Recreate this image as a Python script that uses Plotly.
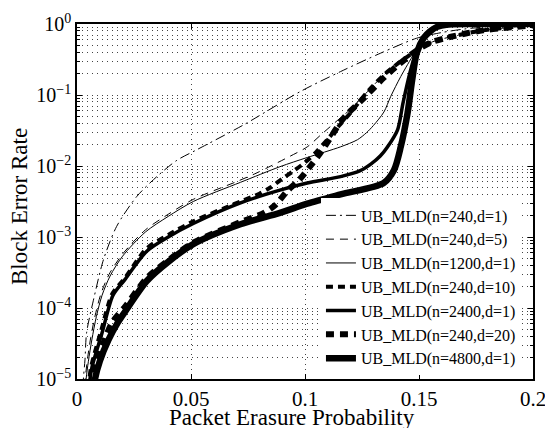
import numpy as np
import plotly.graph_objects as go

# ---- data (x = packet erasure probability, y = log10(block error rate)) ----
p_n240_d1 = [0.0022, 0.0028, 0.0035, 0.0042, 0.0072, 0.0116, 0.0174, 0.0262, 0.035, 0.0438, 0.0526,
             0.0731, 0.098, 0.1156, 0.1332, 0.149, 0.16, 0.17, 0.18, 0.19, 0.2]
e_n240_d1 = [-5.4, -5.0, -4.73, -4.35, -3.89, -3.32, -2.85, -2.43, -2.15, -1.92, -1.77,
             -1.42, -0.95, -0.67, -0.41, -0.2, -0.12, -0.07, -0.04, -0.02, -0.01]

p_n240_d5 = [0.0031, 0.0036, 0.0046, 0.006, 0.008, 0.0105, 0.014, 0.02, 0.03, 0.04, 0.051, 0.07,
             0.078, 0.085, 0.093, 0.101, 0.107, 0.1156, 0.12, 0.1275, 0.1345, 0.14, 0.149, 0.156,
             0.164, 0.171, 0.178, 0.186, 0.2]
e_n240_d5 = [-5.3, -5.0, -4.72, -4.42, -4.1, -3.8, -3.53, -3.24, -2.9, -2.68, -2.47, -2.22,
             -2.11, -2.0, -1.87, -1.73, -1.56, -1.32, -1.2, -0.95, -0.72, -0.58, -0.37, -0.25,
             -0.18, -0.13, -0.09, -0.06, -0.02]

p_n1200_d1 = [0.0034, 0.004, 0.005, 0.0065, 0.0085, 0.011, 0.0145, 0.02, 0.03, 0.04, 0.051, 0.0717,
              0.089, 0.101, 0.1156, 0.123, 0.127, 0.130, 0.1346, 0.1376, 0.142, 0.148, 0.152,
              0.156, 0.16, 0.165, 0.2]
e_n1200_d1 = [-5.3, -5.0, -4.75, -4.45, -4.12, -3.82, -3.55, -3.27, -2.93, -2.71, -2.5, -2.23,
              -2.01, -1.88, -1.73, -1.63, -1.53, -1.43, -1.24, -1.02, -0.74, -0.41, -0.22,
              -0.09, -0.03, -0.01, 0.0]

p_n240_d10 = [0.0047, 0.0054, 0.0064, 0.0105, 0.0155, 0.021, 0.0306, 0.04, 0.051, 0.0717, 0.08,
              0.085, 0.09, 0.095, 0.1, 0.105, 0.11, 0.115, 0.12, 0.1275, 0.1345, 0.139, 0.149,
              0.156, 0.164, 0.171, 0.178, 0.186, 0.2]
e_n240_d10 = [-5.3, -5.0, -4.8, -4.33, -3.8, -3.58, -3.16, -2.97, -2.78, -2.5, -2.39,
              -2.3, -2.18, -2.07, -1.95, -1.8, -1.62, -1.43, -1.25, -0.95, -0.72, -0.6, -0.37,
              -0.25, -0.18, -0.13, -0.09, -0.06, -0.02]

p_n2400_d1 = [0.005, 0.0057, 0.0066, 0.011, 0.0158, 0.021, 0.0306, 0.04, 0.051, 0.0717, 0.089,
              0.101, 0.1156, 0.124, 0.129, 0.133, 0.136, 0.1406, 0.143, 0.146, 0.149, 0.152,
              0.156, 0.16, 0.165, 0.2]
e_n2400_d1 = [-5.3, -5.0, -4.83, -4.35, -3.82, -3.6, -3.2, -3.0, -2.81, -2.52, -2.34,
              -2.24, -2.15, -2.07, -1.97, -1.86, -1.74, -1.49, -1.11, -0.69, -0.37, -0.18,
              -0.06, -0.02, 0.0, 0.0]

p_n240_d20 = [0.0062, 0.007, 0.0085, 0.0115, 0.0155, 0.0211, 0.0306, 0.04, 0.051, 0.0717, 0.082,
              0.087, 0.092, 0.0973, 0.1024, 0.106, 0.112, 0.1156, 0.1185, 0.125, 0.1345, 0.14,
              0.145, 0.15, 0.156, 0.164, 0.171, 0.178, 0.186, 0.2]
e_n240_d20 = [-5.3, -5.0, -4.8, -4.5, -4.2, -3.98, -3.58, -3.33, -3.08, -2.79, -2.66,
              -2.55, -2.36, -2.2, -2.0, -1.85, -1.56, -1.38, -1.27, -1.07, -0.76, -0.6,
              -0.47, -0.35, -0.25, -0.18, -0.13, -0.09, -0.06, -0.02]

p_n4800_d1 = [0.0068, 0.0079, 0.01, 0.0138, 0.018, 0.0211, 0.0306, 0.04, 0.051, 0.0717, 0.089,
              0.101, 0.1156, 0.1345, 0.139, 0.142, 0.145, 0.147, 0.149, 0.152, 0.155, 0.158,
              0.162, 0.2]
e_n4800_d1 = [-5.3, -5.0, -4.75, -4.45, -4.2, -4.05, -3.62, -3.35, -3.1, -2.82, -2.66,
              -2.53, -2.4, -2.24, -2.06, -1.73, -1.25, -0.79, -0.41, -0.2, -0.1, -0.04,
              -0.01, 0.0]

series_names = ["UB_MLD(n=240,d=1)", "UB_MLD(n=240,d=5)", "UB_MLD(n=1200,d=1)",
                "UB_MLD(n=240,d=10)", "UB_MLD(n=2400,d=1)", "UB_MLD(n=240,d=20)",
                "UB_MLD(n=4800,d=1)"]

x_title = "Packet Erasure Probability"
y_title = "Block Error Rate"

x_tick_vals = [0, 0.05, 0.1, 0.15, 0.2]
x_tick_text = ["0", "0.05", "0.1", "0.15", "0.2"]
y_tick_vals = [1e-5, 1e-4, 1e-3, 1e-2, 1e-1, 1]
y_tick_text = ["10<sup>\u22125</sup>", "10<sup>\u22124</sup>", "10<sup>\u22123</sup>",
               "10<sup>\u22122</sup>", "10<sup>\u22121</sup>", "10<sup>0</sup>"]
y_minor_mult = [2, 3, 4, 5, 6, 7, 8, 9]
y_decades = [-5, -4, -3, -2, -1]

# ---- styling ----
styles = [
    dict(width=1, dash="10px,4px,2px,4px"),
    dict(width=1, dash="8px,6px"),
    dict(width=1, dash="solid"),
    dict(width=4, dash="7px,5px"),
    dict(width=3.5, dash="solid"),
    dict(width=6, dash="8px,6px"),
    dict(width=6.5, dash="solid"),
]

xs = [p_n240_d1, p_n240_d5, p_n1200_d1, p_n240_d10, p_n2400_d1, p_n240_d20, p_n4800_d1]
es = [e_n240_d1, e_n240_d5, e_n1200_d1, e_n240_d10, e_n2400_d1, e_n240_d20, e_n4800_d1]

fig = go.Figure()
for name, x, e, st in zip(series_names, xs, es, styles):
    fig.add_trace(go.Scatter(
        x=x, y=np.power(10.0, np.array(e)), mode="lines", name=name,
        line=dict(color="black", width=st["width"], dash=st["dash"], shape="spline", smoothing=0.8),
    ))

minor_y = [m * 10.0 ** d for d in y_decades for m in y_minor_mult]

font_family = "Liberation Serif, Times New Roman, serif"
grid_common = dict(gridcolor="#444", gridwidth=1, griddash="1px,4px")

fig.update_layout(
    width=545, height=428,
    margin=dict(l=77, r=12, t=24, b=49, autoexpand=False),
    paper_bgcolor="white", plot_bgcolor="white",
    font=dict(family=font_family, color="black", size=20),
    showlegend=True,
    legend=dict(
        x=0.535, xanchor="left", y=0.01, yanchor="bottom",
        bgcolor="white", borderwidth=0,
        font=dict(family=font_family, size=16, color="black"),
        itemwidth=30, tracegroupgap=0,
    ),
    xaxis=dict(
        range=[0, 0.2], tickmode="array", tickvals=x_tick_vals, ticktext=x_tick_text,
        ticks="inside", ticklen=5, tickwidth=1, tickcolor="black",
        showline=True, linecolor="black", linewidth=1.5, mirror="allticks",
        showgrid=True, zeroline=False, automargin=False, ticklabeloverflow="allow",
        **grid_common,
        tickfont=dict(size=21),
    ),
    yaxis=dict(
        type="log", range=[-5, 0], tickmode="array", tickvals=y_tick_vals, ticktext=y_tick_text,
        ticks="inside", ticklen=5, tickwidth=1, tickcolor="black",
        showline=True, linecolor="black", linewidth=1.5, mirror="allticks",
        showgrid=True, zeroline=False, automargin=False, ticklabeloverflow="allow",
        **grid_common,
        minor=dict(tickvals=minor_y, ticks="inside", ticklen=3, tickcolor="black",
                   showgrid=True, gridcolor="#444", gridwidth=1, griddash="1px,4px"),
        tickfont=dict(size=20),
    ),
    annotations=[
        dict(text=x_title, xref="paper", yref="paper", x=(292 - 77) / 456, y=-(417 - 379) / 355,
             xanchor="center", yanchor="middle", showarrow=False,
             font=dict(family=font_family, size=23, color="black")),
        dict(text=y_title, xref="paper", yref="paper", x=(19 - 77) / 456, y=(379 - 207) / 355,
             xanchor="center", yanchor="middle", showarrow=False, textangle=-90,
             font=dict(family=font_family, size=23, color="black")),
    ],
)

# remove the default page margin so the 545x428 figure fills the window exactly
fig.write_html(
    "out.html",
    config={"displayModeBar": False},
    post_script="document.body.style.margin='0';document.body.style.overflow='hidden';",
)
